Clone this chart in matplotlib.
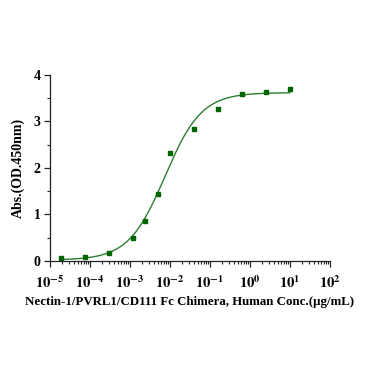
import numpy as np
import matplotlib
matplotlib.use("Agg")
import matplotlib.pyplot as plt
from matplotlib.ticker import LogLocator, MultipleLocator, FixedLocator

conc = [1.9e-5, 7.6e-5, 3.05e-4, 1.22e-3, 2.44e-3, 4.88e-3, 9.77e-3, 0.039, 0.156, 0.625, 2.5, 10.0]
absv = [0.06, 0.08, 0.17, 0.50, 0.86, 1.43, 2.32, 2.83, 3.26, 3.60, 3.63, 3.70]

# 4PL fit parameters (bottom, top, EC50, hill)
fit_bottom = 0.02
fit_top = 3.62
fit_ec50 = 0.0075
fit_hill = 0.95

xtick_vals = [1e-5, 1e-4, 1e-3, 1e-2, 1e-1, 1e0, 1e1, 1e2]
xtick_labels = [r"$\mathbf{10^{-5}}$", r"$\mathbf{10^{-4}}$", r"$\mathbf{10^{-3}}$", r"$\mathbf{10^{-2}}$",
                r"$\mathbf{10^{-1}}$", r"$\mathbf{10^{0}}$", r"$\mathbf{10^{1}}$", r"$\mathbf{10^{2}}$"]
ytick_vals = [0, 1, 2, 3, 4]

plt.rcParams['font.family'] = ['Liberation Serif', 'DejaVu Serif']
plt.rcParams['mathtext.fontset'] = 'stix'

fig = plt.figure(figsize=(3.71, 3.71), dpi=100)
ax = fig.add_axes([0.135, 0.2965, 0.754, 0.5015])

xs = np.logspace(np.log10(conc[0]), np.log10(conc[-1]), 300)
ys = fit_bottom + (fit_top - fit_bottom) / (1 + (fit_ec50 / xs) ** fit_hill)
ax.plot(xs, ys, color='#2e7d32', lw=1.0)
ax.plot(conc, absv, 's', color='#006400', ms=3.5, mec='#006400')

ax.set_xscale('log')
ax.set_xlim(1e-5, 1e2)
ax.set_ylim(0, 4)
ax.xaxis.set_major_locator(FixedLocator(xtick_vals))
ax.set_xticklabels(xtick_labels, fontsize=10.5)
ax.xaxis.set_minor_locator(LogLocator(base=10, subs=np.arange(2, 10), numticks=20))
ax.set_yticks(ytick_vals)
ax.set_yticklabels([str(v) for v in ytick_vals], fontsize=10, fontweight='bold')
ax.yaxis.set_minor_locator(MultipleLocator(0.5))

for s in ['top', 'right']:
    ax.spines[s].set_visible(False)
for s in ['left', 'bottom']:
    ax.spines[s].set_linewidth(0.9)
    ax.spines[s].set_color('#222222')
ax.tick_params(axis='both', which='major', length=4, width=0.9, color='#222222')
ax.tick_params(axis='x', which='major', pad=6)
ax.tick_params(axis='y', which='major', pad=3)
ax.tick_params(axis='both', which='minor', length=2.5, width=0.8, color='#222222')

ax.set_ylabel('Abs.(OD.450nm)', fontsize=10, fontweight='bold', labelpad=6)
ax.set_xlabel('Nectin-1/PVRL1/CD111 Fc Chimera, Human Conc.(μg/mL)', fontsize=9.3, fontweight='bold', labelpad=3)

fig.savefig('out.png', dpi=100)
